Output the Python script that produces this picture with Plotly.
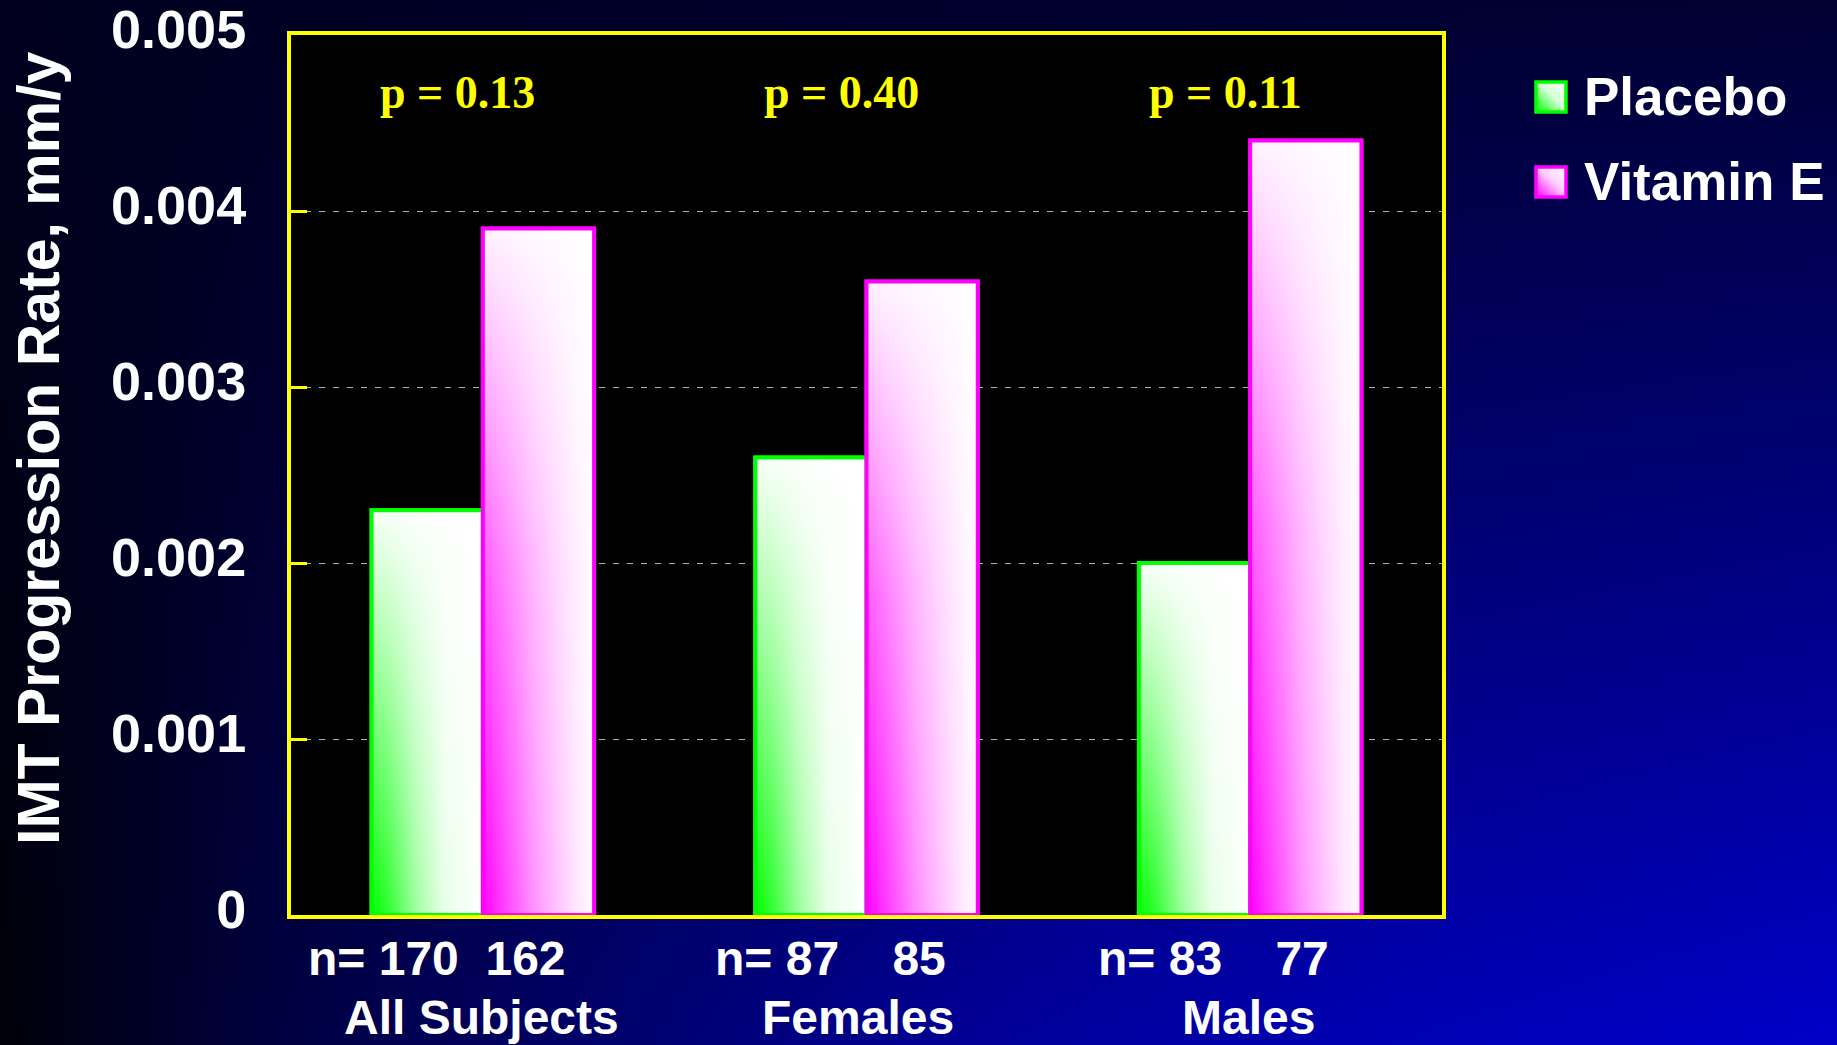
import base64
import plotly.graph_objects as go

# ---- data -------------------------------------------------------------
groups = ["All Subjects", "Females", "Males"]
n_labels = ["n= 170\u00a0\u00a0162", "n= 87\u00a0\u00a0\u00a0\u00a085", "n= 83\u00a0\u00a0\u00a0\u00a077"]
series_names = ["Placebo", "Vitamin E"]
placebo = [0.0023, 0.0026, 0.0020]
vitamin_e = [0.0039, 0.0036, 0.0044]
p_values = ["p = 0.13", "p = 0.40", "p = 0.11"]
y_ticks = [0, 0.001, 0.002, 0.003, 0.004, 0.005]
y_tick_labels = ["0", "0.001", "0.002", "0.003", "0.004", "0.005"]
y_title = "IMT Progression Rate, mm/y"

# ---- geometry / style -------------------------------------------------
W, H = 1837, 1045
ML, MR, MT, MB = 291, 395, 35, 130
PW, PH = W - ML - MR, H - MT - MB
BAR_W = 0.29

SANS = "Liberation Sans, Arial, sans-serif"
SERIF = "Liberation Serif, Times New Roman, serif"
GREEN, MAGENTA, YELLOW = "#00ff00", "#ff00ff", "#ffff00"


def px_x(px):
    return (px - ML) / PW


def px_y(py):
    return (MT + PH - py) / PH


def svg_uri(svg):
    return "data:image/svg+xml;base64," + base64.b64encode(svg.encode()).decode()


background_svg = f"""<svg xmlns='http://www.w3.org/2000/svg' width='{W}' height='{H}' viewBox='0 0 {W} {H}' preserveAspectRatio='none'>
<defs>
<linearGradient id='h' x1='0' y1='0' x2='1' y2='0'>
<stop offset='0' stop-color='#000008'/><stop offset='0.15' stop-color='#000040'/>
<stop offset='0.35' stop-color='#000070'/><stop offset='0.55' stop-color='#00009a'/>
<stop offset='0.76' stop-color='#0000b4'/><stop offset='1' stop-color='#0000c8'/>
</linearGradient>
<linearGradient id='v' x1='0' y1='0' x2='0' y2='1'>
<stop offset='0' stop-color='#000020' stop-opacity='0.9'/>
<stop offset='1' stop-color='#000020' stop-opacity='0'/>
</linearGradient>
</defs>
<rect width='{W}' height='{H}' fill='url(#h)'/>
<rect width='{W}' height='{H}' fill='url(#v)'/>
</svg>"""


def swatch_svg(edge, mid):
    return f"""<svg xmlns='http://www.w3.org/2000/svg' width='34' height='34' viewBox='0 0 34 34'>
<defs><linearGradient id='g' x1='0' y1='1' x2='1' y2='0'>
<stop offset='0' stop-color='{edge}'/><stop offset='0.55' stop-color='{mid}'/><stop offset='1' stop-color='#ffffff'/>
</linearGradient></defs>
<rect x='2' y='2' width='30' height='30' fill='url(#g)' stroke='{edge}' stroke-width='3.5'/>
</svg>"""


series_style = [
    dict(values=placebo, offset=-BAR_W, edge=GREEN, base="#b0ffb0",
         hscale=[[0, "#00ff00"], [0.15, "#30ff30"], [0.4, "#a0ffa0"], [0.65, "#e8ffe8"], [1, "#ffffff"]],
         vscale=[[0, "rgba(255,255,255,0)"], [1, "rgba(255,255,255,0.97)"]],
         swatch_mid="#d8ffd8"),
    dict(values=vitamin_e, offset=0.0, edge=MAGENTA, base="#ffb0ff",
         hscale=[[0, "#ff00ff"], [0.2, "#ff40ff"], [0.45, "#ff90ff"], [0.65, "#ffc0ff"], [0.85, "#ffe8ff"], [1, "#fff8ff"]],
         vscale=[[0, "rgba(255,255,255,0)"], [0.5, "rgba(255,255,255,0.35)"], [1, "rgba(255,255,255,0.95)"]],
         swatch_mid="#ffd0ff"),
]

positions = list(range(len(groups)))
fig = go.Figure()

for name, st in zip(series_names, series_style):
    fig.add_trace(go.Bar(
        x=positions, y=st["values"], name=name, width=BAR_W, offset=st["offset"],
        marker=dict(color=st["base"], line=dict(color=st["edge"], width=4)),
        showlegend=False, hoverinfo="skip",
    ))

# gradient faces of the bars, layered on top of the bar traces
for st in series_style:
    for x0, v in zip(positions, st["values"]):
        left = x0 + st["offset"]
        right = left + BAR_W
        xs = [left, left, right, right, left]
        ys = [0, v, v, 0, 0]
        fig.add_trace(go.Scatter(
            x=xs, y=ys, mode="none", fill="toself",
            fillgradient=dict(type="horizontal", colorscale=st["hscale"]),
            showlegend=False, hoverinfo="skip",
        ))
        fig.add_trace(go.Scatter(
            x=xs, y=ys, mode="lines", fill="toself",
            fillgradient=dict(type="vertical", colorscale=st["vscale"]),
            line=dict(color=st["edge"], width=4),
            showlegend=False, hoverinfo="skip",
        ))

annotations = []
# p-values above each group
for x0, p in zip(positions, p_values):
    annotations.append(dict(
        x=x0, y=px_y(92), xref="x", yref="paper", text=p, showarrow=False,
        xanchor="center", yanchor="middle", xshift=-25,
        font=dict(family=SERIF, size=46, color=YELLOW, weight="bold"),
    ))
# category labels below the axis
n_shift = [-46, -36, -37]
g_shift = [-1, -9, -2]
for x0, nl, g, s1, s2 in zip(positions, n_labels, groups, n_shift, g_shift):
    annotations.append(dict(
        x=x0, y=px_y(958), xref="x", yref="paper", text=nl, showarrow=False,
        xanchor="center", yanchor="middle", xshift=s1,
        font=dict(family=SANS, size=48, color="white", weight="bold"),
    ))
    annotations.append(dict(
        x=x0, y=px_y(1018), xref="x", yref="paper", text=g, showarrow=False,
        xanchor="center", yanchor="middle", xshift=s2,
        font=dict(family=SANS, size=48, color="white", weight="bold"),
    ))
# y-axis title
annotations.append(dict(
    x=px_x(39), y=px_y(448), xref="paper", yref="paper", text=y_title, showarrow=False,
    xanchor="center", yanchor="middle", textangle=-90,
    font=dict(family=SANS, size=59, color="white", weight="bold"),
))
# legend text
legend_rows = [97, 182]
for name, row in zip(series_names, legend_rows):
    annotations.append(dict(
        x=px_x(1582), y=px_y(row), xref="paper", yref="paper", text=name, showarrow=False,
        xanchor="left", yanchor="middle",
        font=dict(family=SANS, size=53, color="white", weight="bold"),
    ))

images = [dict(
    source=svg_uri(background_svg), xref="paper", yref="paper",
    x=-ML / PW, y=1 + MT / PH, sizex=W / PW, sizey=H / PH,
    xanchor="left", yanchor="top", sizing="stretch", layer="below",
)]
for st, row in zip(series_style, legend_rows):
    images.append(dict(
        source=svg_uri(swatch_svg(st["edge"], st["swatch_mid"])), xref="paper", yref="paper",
        x=px_x(1534), y=px_y(row - 17), sizex=34 / PW, sizey=34 / PH,
        xanchor="left", yanchor="top", sizing="stretch", layer="above",
    ))

fig.update_layout(
    width=W, height=H,
    margin=dict(l=ML, r=MR, t=MT, b=MB, pad=0, autoexpand=False),
    paper_bgcolor="#000030",
    plot_bgcolor="rgba(0,0,0,0)",
    showlegend=False,
    hovermode=False,
    barmode="overlay",
    images=images,
    annotations=annotations,
    shapes=[dict(type="rect", xref="paper", yref="paper", x0=0, x1=1, y0=0, y1=1,
                 fillcolor="#000000", line=dict(width=0), layer="below")],
    xaxis=dict(
        range=[-0.5, len(groups) - 0.5], showticklabels=False, ticks="",
        showgrid=False, zeroline=False, automargin=False,
        showline=True, linecolor=YELLOW, linewidth=4, mirror=True,
    ),
    yaxis=dict(
        range=[0, 0.005], tickvals=y_ticks, ticktext=y_tick_labels,
        ticks="inside", ticklen=16, tickwidth=3, tickcolor=YELLOW,
        showline=True, linecolor=YELLOW, linewidth=4, mirror=True,
        showgrid=True, gridcolor="#b4b49c", gridwidth=1, griddash="6px,8px",
        zeroline=False, automargin=False,
        ticklabelstandoff=30, ticklabelshift=-6, ticklabeloverflow="allow",
        tickfont=dict(family=SANS, size=54, color="white", weight="bold"),
    ),
)

fig.write_html("out.html", config={"displayModeBar": False})
